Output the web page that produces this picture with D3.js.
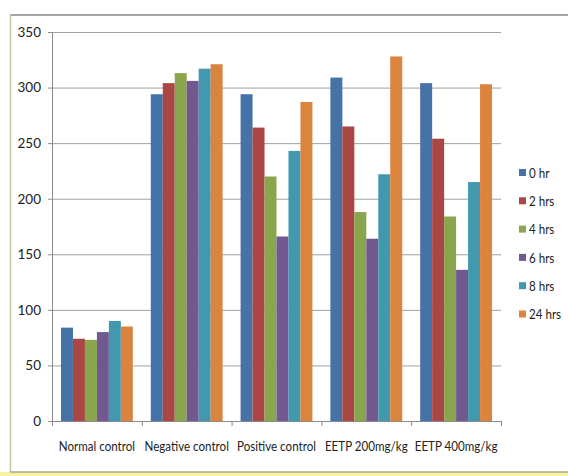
<!DOCTYPE html>
<html>
<head>
<meta charset="utf-8">
<script src="https://cdn.jsdelivr.net/npm/d3@7/dist/d3.min.js"></script>
<style>
  html, body { margin: 0; padding: 0; background: #ffffff; }
  svg { display: block; }
  text { font-family: Lato, "Open Sans", sans-serif; fill: #222; }
</style>
</head>
<body>
<svg id="chart" width="568" height="476"></svg>
<script>
// Groups along the x axis
const categories = ["Normal control", "Negative control", "Positive control", "EETP 200mg/kg", "EETP 400mg/kg"];
// Time points (one bar per time point in each group)
const seriesNames = ["0 hr", "2 hrs", "4 hrs", "6 hrs", "8 hrs", "24 hrs"];
const seriesColors = ["#4572A7", "#AA4643", "#89A54E", "#71588F", "#4198AF", "#DB843D"];
// Values per time point, in the order of the categories
const hr0  = [84, 294, 294, 309, 304];
const hr2  = [74, 304, 264, 265, 254];
const hr4  = [73, 313, 220, 188, 184];
const hr6  = [80, 306, 166, 164, 136];
const hr8  = [90, 317, 243, 222, 215];
const hr24 = [85, 321, 287, 328, 303];
const seriesValues = [hr0, hr2, hr4, hr6, hr8, hr24];
const yTicks = [0, 50, 100, 150, 200, 250, 300, 350];

const FONT = "Lato, 'Open Sans', sans-serif";
const svg = d3.select("#chart");

// Outer frame with pale yellow strip under it
svg.append("rect").attr("x", 0).attr("y", 472).attr("width", 568).attr("height", 4).attr("fill", "#f7f3a0");
svg.append("line").attr("x1", 10).attr("x2", 568).attr("y1", 15).attr("y2", 15)
  .attr("stroke", "#8a8a8a").attr("stroke-width", 1.5);
svg.append("line").attr("x1", 10.5).attr("x2", 10.5).attr("y1", 15).attr("y2", 472)
  .attr("stroke", "#c8c4a0").attr("stroke-width", 1.5);
svg.append("line").attr("x1", 10).attr("x2", 568).attr("y1", 472).attr("y2", 472)
  .attr("stroke", "#a8a890").attr("stroke-width", 1.5);

const plot = { left: 52, right: 501, top: 32, bottom: 421 };

const x0 = d3.scaleBand().domain(categories).range([plot.left, plot.right]).paddingInner(0).paddingOuter(0);
const groupW = x0.bandwidth();
const barW = groupW / (seriesNames.length + 1.5);
const x1 = d3.scaleBand().domain(seriesNames)
  .range([barW * 0.75, barW * 0.75 + barW * seriesNames.length]);

const y = d3.scaleLinear().domain([0, 350]).range([plot.bottom, plot.top]);

// Horizontal gridlines
const grid = svg.append("g");
grid.selectAll("line").data(yTicks.filter(t => t > 0)).join("line")
  .attr("x1", plot.left).attr("x2", plot.right)
  .attr("y1", d => y(d) + 0.5).attr("y2", d => y(d) + 0.5)
  .attr("stroke", "#a0a0a0").attr("stroke-width", 1);

// Bars
const groups = svg.append("g").selectAll("g").data(categories).join("g")
  .attr("transform", d => `translate(${x0(d)},0)`);
groups.selectAll("rect")
  .data((c, ci) => seriesNames.map((s, si) => ({ s, si, v: seriesValues[si][ci] })))
  .join("rect")
  .attr("x", d => x1(d.s))
  .attr("width", x1.bandwidth())
  .attr("y", d => y(d.v))
  .attr("height", d => y(0) - y(d.v))
  .attr("fill", d => seriesColors[d.si]);

// Y axis
const yAxis = svg.append("g").attr("transform", `translate(${plot.left},0)`)
  .call(d3.axisLeft(y).tickValues(yTicks).tickSize(4).tickPadding(7).tickSizeOuter(0));
yAxis.attr("font-family", FONT);
yAxis.select(".domain").attr("stroke", "#8a8a8a");
yAxis.selectAll(".tick line").attr("stroke", "#8a8a8a");
yAxis.selectAll(".tick text").attr("font-size", 13.5).attr("fill", "#222");

// X axis: ticks at group boundaries
const xAxisG = svg.append("g").attr("transform", `translate(0,${plot.bottom})`);
xAxisG.append("line").attr("x1", plot.left).attr("x2", plot.right).attr("y1", 0.5).attr("y2", 0.5)
  .attr("stroke", "#8a8a8a");
const boundaries = categories.map(c => x0(c)).concat([plot.right]);
xAxisG.selectAll("line.tk").data(boundaries).join("line").attr("class", "tk")
  .attr("x1", d => d + 0.5).attr("x2", d => d + 0.5).attr("y1", 0).attr("y2", 5)
  .attr("stroke", "#8a8a8a");
// Category labels, horizontally condensed
xAxisG.selectAll("text").data(categories).join("text")
  .attr("transform", d => `translate(${x0(d) + groupW / 2},30) scale(0.86,1)`)
  .attr("text-anchor", "middle")
  .attr("font-size", 13.5)
  .text(d => d);

// Legend
const legend = svg.append("g").attr("transform", "translate(519,173)");
const items = legend.selectAll("g").data(seriesNames).join("g")
  .attr("transform", (d, i) => `translate(0,${i * 28.3})`);
items.append("rect").attr("x", 0).attr("y", -4).attr("width", 7).attr("height", 7)
  .attr("fill", (d, i) => seriesColors[i]);
items.append("text").attr("transform", "translate(10,0) scale(0.86,1)").attr("dy", "0.35em")
  .attr("font-size", 13.5).text(d => d);
</script>
</body>
</html>
